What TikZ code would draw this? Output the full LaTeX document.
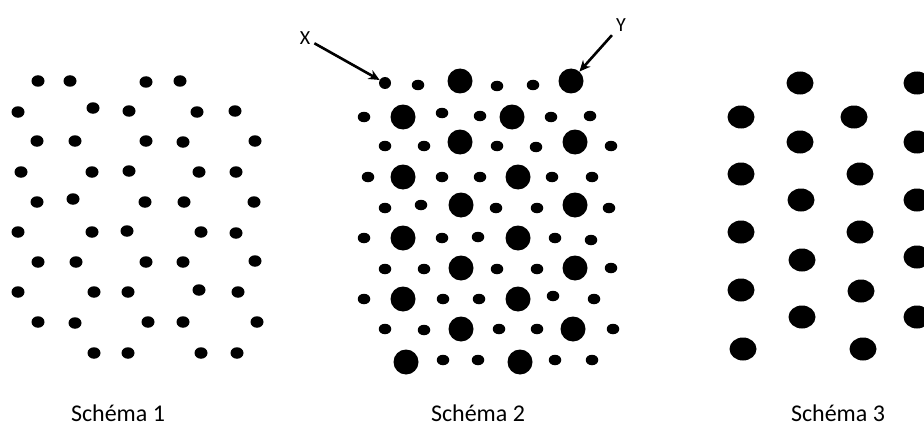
\documentclass[tikz,border=0pt]{standalone}
\usepackage{fontspec}
\setmainfont{Carlito}
\usetikzlibrary{shapes.geometric,arrows.meta}
\begin{document}
\begin{tikzpicture}[x=1pt,y=-1pt,
  dotone/.style={ellipse,fill=black,inner sep=0pt,minimum width=13pt,minimum height=11.5pt},
  dotsmall/.style={ellipse,fill=black,inner sep=0pt,minimum width=12.5pt,minimum height=10.5pt},
  dotbig/.style={circle,fill=black,inner sep=0pt,minimum size=25pt},
  dotthree/.style={ellipse,fill=black,inner sep=0pt,minimum width=27pt,minimum height=23pt},
  caption/.style={font=\fontsize{24}{28}\selectfont,anchor=base,inner sep=0pt},
  letter/.style={font=\fontsize{20}{22}\selectfont,inner sep=4pt},
  pointer/.style={line width=2.6pt,-{Stealth[length=11pt,width=10pt]}}]
\useasboundingbox (0,0) rectangle (924,436);
% Schema 1
\foreach \x/\y [count=\i] in {38/81,70/81,146/82,180/81,
  18/112,93/108,129/111,197/112,235/111,
  37/141,75/141,146/141,183/142,255/141,
  21/172,92/172,129/171,199/172,236/172,
  37/202,73/199,145/202,184/202,254/202,
  18/232,92/232,127/231,201/232,236/233,
  38/262,76/262,146/262,183/262,255/261,
  18/292,94/292,128/292,199/290,238/292,
  38/322,75/323,148/322,183/322,257/322,
  94/353,128/353,201/353,237/353}
  \node[dotone] (a\i) at (\x,\y) {};
% Schema 2 small dots
\node[dotsmall,minimum width=12pt,minimum height=12pt] (xdot) at (385,83) {};
\foreach \x/\y [count=\i] in {418/85,497/86,533/85,
  364/117,442/113,480/116,551/117,590/116,
  385/146,424/146,497/146,536/147,611/146,
  368/177,442/177,480/177,552/177,592/177,
  385/208,421/205,496/208,537/208,609/208,
  364/238,442/238,478/237,555/238,591/240,
  385/269,424/269,497/269,537/269,611/268,
  364/299,443/299,479/299,553/296,594/299,
  385/329,424/330,499/329,537/329,613/329,
  443/360,478/360,555/360,592/360}
  \node[dotsmall] (s\i) at (\x,\y) {};
% Schema 2 big dots
\node[dotbig] (ydot) at (571,81) {};
\foreach \x/\y [count=\i] in {460/81,
  403/117,512/117,
  460/142,575/142,
  403/177,518/177,
  461/205,575/205,
  403/238,518/238,
  461/268,575/268,
  403/299,518/299,
  461/329,573/329,
  406/362,520/362}
  \node[dotbig] (b\i) at (\x,\y) {};
% Schema 3
\foreach \x/\y [count=\i] in {741/117,741/174,741/232,741/290,743/349,
  800/83,800/142,801/200,802/260,802/317,
  854/117,860/174,860/232,861/291,863/349,
  917/83,917/142,917/200,917/257,917/317}
  \node[dotthree] (c\i) at (\x,\y) {};
% Labels X and Y
\node[letter] (xlab) at (305,38) {X};
\node[letter] (ylab) at (621,25) {Y};
\draw[pointer] (xlab) -- (xdot);
\draw[pointer] (ylab) -- (ydot);
% Captions
\node[caption] (cap1) at (118,421) {Schéma 1};
\node[caption] (cap2) at (478,421) {Schéma 2};
\node[caption] (cap3) at (838,421) {Schéma 3};
\end{tikzpicture}
\end{document}
